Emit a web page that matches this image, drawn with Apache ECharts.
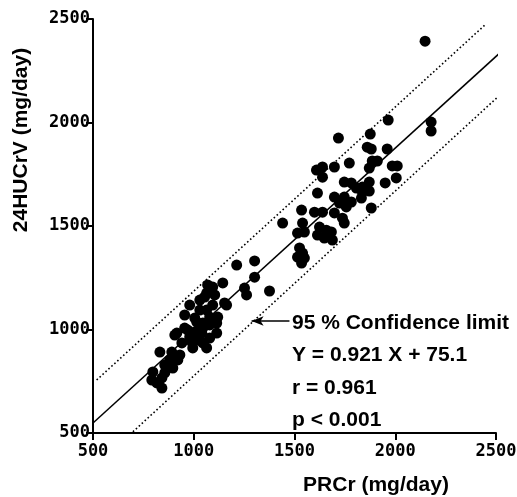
<!DOCTYPE html>
<html>
<head>
<meta charset="utf-8">
<script src="https://cdn.jsdelivr.net/npm/echarts@6/dist/echarts.min.js"></script>
<style>
html, body { margin: 0; padding: 0; background: #fff; }
#chart { width: 517px; height: 497px; }
</style>
</head>
<body>
<div id="chart"></div>
<script>
// PRCr (x) and 24HUCrV (y), mg/day
var prcr = [2148, 2178, 2178, 1965, 1876, 1861, 1881, 1960, 1886, 1911, 1871, 1985, 2010, 2005, 1871, 1950,
    1837, 1871, 1832, 1881, 1609, 1639, 1639, 1698, 1772, 1747, 1782, 1807, 1837, 1614, 1698, 1747,
    1723, 1757, 1782, 1535, 1599, 1639, 1698, 1738, 1747, 1540, 1441, 1515, 1549, 1624, 1614, 1648,
    1683, 1688, 1658, 1525, 1540, 1515, 1549, 1535, 1213, 1302, 1302, 1252, 1262, 1376, 1163, 980,
    1119, 1144, 1094, 1069, 1064, 1104, 1153, 1030, 1064, 1079, 955, 1005, 1045, 1079, 1114, 916,
    970, 1005, 1040, 1114, 1079, 990, 1020, 941, 1064, 995, 891, 832, 931, 921, 881, 856,
    896, 856, 797, 792, 817, 842, 842, 1054, 1094, 1015, 1045, 906, 980, 1045, 1030, 1718, 955];
var ucrv = [2393, 2002, 1959, 2012, 1944, 1881, 1872, 1872, 1814, 1814, 1780, 1790, 1790, 1732, 1712, 1708,
    1688, 1669, 1635, 1587, 1770, 1785, 1736, 1785, 1804, 1712, 1708, 1683, 1664, 1659, 1640, 1640,
    1611, 1592, 1616, 1577, 1567, 1567, 1563, 1538, 1514, 1514, 1514, 1466, 1471, 1495, 1456, 1442,
    1471, 1432, 1480, 1394, 1369, 1350, 1345, 1321, 1311, 1331, 1253, 1200, 1167, 1186, 1118, 1118,
    1060, 1225, 1205, 1215, 1176, 1167, 1128, 1094, 1094, 1060, 1070, 1055, 1031, 1022, 1031, 983,
    997, 988, 983, 983, 959, 940, 949, 935, 911, 911, 891, 891, 877, 853, 853, 828,
    814, 790, 795, 756, 742, 766, 717, 1157, 1118, 1036, 1007, 973, 964, 935, 1142, 1925, 1007];

var axisMin = 500, axisMax = 2500, axisStep = 500;

// regression line and 95% limits, end points as drawn
var fitLine = [[500, 548], [2518, 2335]];
var upperLimit = [[518, 756], [2445, 2471]];
var lowerLimit = [[698, 506], [2523, 2136]];
var arrowFrom = [1475, 1041];
var arrowTo = [1287, 1041];

var notes = ['95 % Confidence limit', 'Y = 0.921 X + 75.1', 'r = 0.961', 'p < 0.001'];
var noteY = [323, 355, 388, 420];

var points = [];
for (var i = 0; i < prcr.length; i++) {
    points.push([prcr[i], ucrv[i]]);
}

var chart = echarts.init(document.getElementById('chart'), null, { renderer: 'canvas' });

var textFont = 'bold 21px "Liberation Sans", Arial, sans-serif';

function valueAxis(labelMargin) {
    return {
        type: 'value',
        min: axisMin,
        max: axisMax,
        interval: axisStep,
        axisLine: { show: true, onZero: false, lineStyle: { color: '#000', width: 2 } },
        axisTick: { show: true, inside: false, length: 7, lineStyle: { color: '#000', width: 2 } },
        splitLine: { show: false },
        axisLabel: {
            margin: labelMargin,
            showMinLabel: true,
            showMaxLabel: true,
            color: '#000',
            fontFamily: '"DejaVu Sans Mono", monospace',
            fontWeight: 'bold',
            fontSize: 17,
            formatter: function (v) { return String(v); }
        }
    };
}

var noteGraphics = notes.map(function (t, k) {
    return {
        type: 'text',
        x: 292,
        y: noteY[k],
        style: {
            text: t,
            fill: '#000',
            font: textFont,
            textVerticalAlign: 'middle'
        }
    };
});

var option = {
    backgroundColor: '#fff',
    animation: false,
    grid: { left: 93, right: 21, top: 19, bottom: 64, containLabel: false, outerBoundsMode: 'none' },
    xAxis: valueAxis(10),
    yAxis: valueAxis(3),
    series: [
        {
            type: 'line',
            data: fitLine,
            clip: false,
            symbol: 'none',
            silent: true,
            lineStyle: { color: '#000', width: 1.5 },
            markLine: {
                silent: true,
                symbol: ['none', 'arrow'],
                symbolSize: [7, 12],
                label: { show: false },
                lineStyle: { color: '#000', width: 1.5, type: 'solid' },
                data: [[{ coord: arrowFrom }, { coord: arrowTo }]]
            }
        },
        {
            type: 'line',
            data: upperLimit,
            clip: false,
            symbol: 'none',
            silent: true,
            lineStyle: { color: '#000', width: 1.6, type: [1.6, 2.4] }
        },
        {
            type: 'line',
            data: lowerLimit,
            clip: false,
            symbol: 'none',
            silent: true,
            lineStyle: { color: '#000', width: 1.6, type: [1.6, 2.4] }
        },
        {
            type: 'scatter',
            data: points,
            symbol: 'circle',
            symbolSize: 11,
            itemStyle: { color: '#000', opacity: 1 }
        }
    ],
    graphic: noteGraphics.concat([
        {
            type: 'text',
            x: 376,
            y: 485,
            style: {
                text: 'PRCr (mg/day)',
                fill: '#000',
                font: textFont,
                textAlign: 'center',
                textVerticalAlign: 'middle'
            }
        },
        {
            type: 'text',
            x: 21,
            y: 140,
            rotation: Math.PI / 2,
            style: {
                text: '24HUCrV (mg/day)',
                fill: '#000',
                font: textFont,
                textAlign: 'center',
                textVerticalAlign: 'middle'
            }
        }
    ])
};

chart.setOption(option);
</script>
</body>
</html>
